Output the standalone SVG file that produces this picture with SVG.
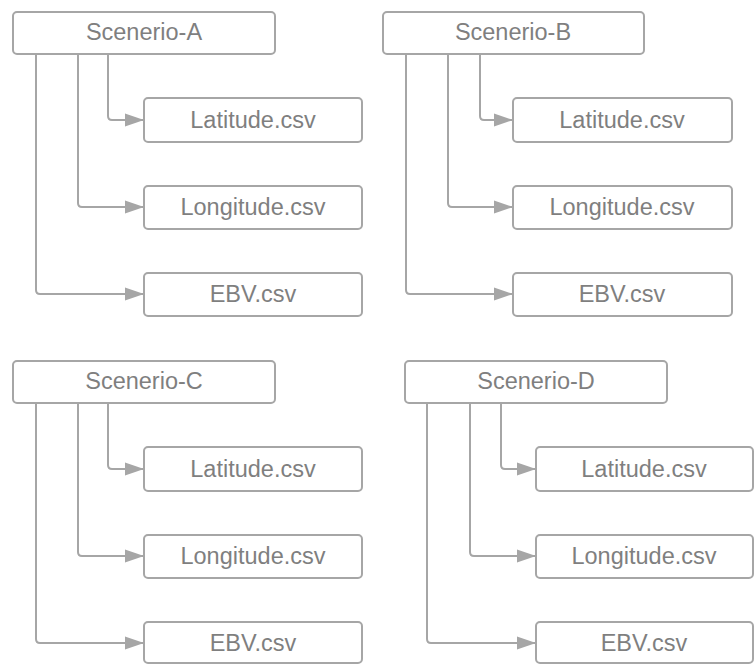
<svg xmlns="http://www.w3.org/2000/svg" width="755" height="665" viewBox="0 0 755 665">
  <style>
    .box { fill: #ffffff; stroke: #a6a6a6; stroke-width: 2; }
    .lbl { font-family: "Liberation Sans", Arial, sans-serif; font-size: 23.5px; fill: #7f7f7f; text-anchor: middle; }
    .wire { fill: none; stroke: #a6a6a6; stroke-width: 2; marker-end: url(#head); }
  </style>
  <defs>
    <marker id="head" markerUnits="userSpaceOnUse" markerWidth="20" markerHeight="14" refX="19" refY="7" orient="auto">
      <path d="M0,0.5 L19,7 L0,13.5 z" fill="#a6a6a6"/>
    </marker>
  </defs>
  <rect width="755" height="665" fill="#ffffff"/>

  <g id="connectors">
    <!-- Scenerio-A -->
    <path class="wire" d="M108,54 V116 Q108,120 112,120 H144"/>
    <path class="wire" d="M78,54 V203 Q78,207 82,207 H144"/>
    <path class="wire" d="M36,54 V290 Q36,294 40,294 H144"/>
    <!-- Scenerio-B -->
    <path class="wire" d="M480,54 V116 Q480,120 484,120 H513"/>
    <path class="wire" d="M448,54 V203 Q448,207 452,207 H513"/>
    <path class="wire" d="M406,54 V290 Q406,294 410,294 H513"/>
    <!-- Scenerio-C -->
    <path class="wire" d="M108,403 V465 Q108,469 112,469 H144"/>
    <path class="wire" d="M78,403 V552 Q78,556 82,556 H144"/>
    <path class="wire" d="M36,403 V639 Q36,643 40,643 H144"/>
    <!-- Scenerio-D -->
    <path class="wire" d="M501,403 V465 Q501,469 505,469 H536"/>
    <path class="wire" d="M470,403 V552 Q470,556 474,556 H536"/>
    <path class="wire" d="M427,403 V639 Q427,643 431,643 H536"/>
  </g>

  <!-- Scenerio-A -->
  <g id="scenerio-a">
    <rect class="box" x="13" y="12" width="262" height="42" rx="4"/>
    <text class="lbl" x="144" y="40">Scenerio-A</text>
  </g>
  <g id="a-latitude">
    <rect class="box" x="144" y="98" width="218" height="44" rx="4"/>
    <text class="lbl" x="253" y="128">Latitude.csv</text>
  </g>
  <g id="a-longitude">
    <rect class="box" x="144" y="186" width="218" height="43" rx="4"/>
    <text class="lbl" x="253" y="215">Longitude.csv</text>
  </g>
  <g id="a-ebv">
    <rect class="box" x="144" y="273" width="218" height="43" rx="4"/>
    <text class="lbl" x="253" y="302">EBV.csv</text>
  </g>

  <!-- Scenerio-B -->
  <g id="scenerio-b">
    <rect class="box" x="383" y="12" width="261" height="42" rx="4"/>
    <text class="lbl" x="513" y="40">Scenerio-B</text>
  </g>
  <g id="b-latitude">
    <rect class="box" x="513" y="98" width="219" height="44" rx="4"/>
    <text class="lbl" x="622" y="128">Latitude.csv</text>
  </g>
  <g id="b-longitude">
    <rect class="box" x="513" y="186" width="219" height="43" rx="4"/>
    <text class="lbl" x="622" y="215">Longitude.csv</text>
  </g>
  <g id="b-ebv">
    <rect class="box" x="513" y="273" width="219" height="43" rx="4"/>
    <text class="lbl" x="622" y="302">EBV.csv</text>
  </g>

  <!-- Scenerio-C -->
  <g id="scenerio-c">
    <rect class="box" x="13" y="361" width="262" height="42" rx="4"/>
    <text class="lbl" x="144" y="389">Scenerio-C</text>
  </g>
  <g id="c-latitude">
    <rect class="box" x="144" y="447" width="218" height="44" rx="4"/>
    <text class="lbl" x="253" y="477">Latitude.csv</text>
  </g>
  <g id="c-longitude">
    <rect class="box" x="144" y="535" width="218" height="43" rx="4"/>
    <text class="lbl" x="253" y="564">Longitude.csv</text>
  </g>
  <g id="c-ebv">
    <rect class="box" x="144" y="622" width="218" height="41" rx="4"/>
    <text class="lbl" x="253" y="651">EBV.csv</text>
  </g>

  <!-- Scenerio-D -->
  <g id="scenerio-d">
    <rect class="box" x="405" y="361" width="262" height="42" rx="4"/>
    <text class="lbl" x="536" y="389">Scenerio-D</text>
  </g>
  <g id="d-latitude">
    <rect class="box" x="536" y="447" width="217" height="44" rx="4"/>
    <text class="lbl" x="644" y="477">Latitude.csv</text>
  </g>
  <g id="d-longitude">
    <rect class="box" x="536" y="535" width="217" height="43" rx="4"/>
    <text class="lbl" x="644" y="564">Longitude.csv</text>
  </g>
  <g id="d-ebv">
    <rect class="box" x="536" y="622" width="217" height="41" rx="4"/>
    <text class="lbl" x="644" y="651">EBV.csv</text>
  </g>
</svg>
